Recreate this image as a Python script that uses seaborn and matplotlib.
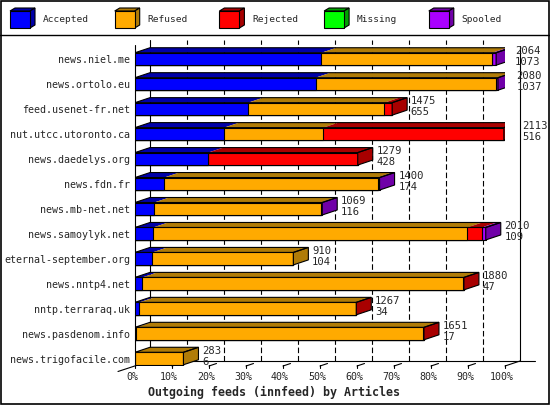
import matplotlib
matplotlib.use("Agg")
import matplotlib.pyplot as plt
from matplotlib.patches import Polygon, Rectangle
from matplotlib.lines import Line2D
import seaborn as sns
import numpy as np

hosts = ["news.niel.me", "news.ortolo.eu", "feed.usenet-fr.net", "nut.utcc.utoronto.ca",
         "news.daedelys.org", "news.fdn.fr", "news.mb-net.net", "news.samoylyk.net",
         "eternal-september.org", "news.nntp4.net", "nntp.terraraq.uk", "news.pasdenom.info",
         "news.trigofacile.com"]
accepted = [50.4, 48.8, 30.6, 24.1, 19.8, 7.9, 5.2, 4.9, 4.7, 2.0, 1.2, 0.4, 0.0]
refused = [46.2, 48.9, 36.8, 26.8, 0.0, 57.7, 45.0, 84.9, 38.1, 86.7, 58.4, 77.5, 13.1]
rejected = [0.0, 0.0, 2.1, 48.8, 40.4, 0.0, 0.0, 3.9, 0.0, 0.2, 0.2, 0.2, 0.0]
missing = [0.0] * 13
spooled = [1.0, 0.4, 0.0, 0.0, 0.0, 0.5, 0.4, 1.1, 0.0, 0.0, 0.0, 0.0, 0.0]
count_top = [2064, 2080, 1475, 2113, 1279, 1400, 1069, 2010, 910, 1880, 1267, 1651, 283]
count_bottom = [1073, 1037, 655, 516, 428, 174, 116, 109, 104, 47, 34, 17, 6]

series_names = ["Accepted", "Refused", "Rejected", "Missing", "Spooled"]
front_colors = ["#0000ff", "#ffaa00", "#ff0000", "#00ff00", "#aa00ff"]
dark_colors = ["#0000a8", "#b07c08", "#a80000", "#00a000", "#7000a8"]

W, H = 550, 405
sns.set_style("white")
plt.rcParams["font.family"] = ["DejaVu Sans Mono", "DejaVu Sans"]
fig = plt.figure(figsize=(W / 100, H / 100), dpi=100)

# main axes: front plane 0..100% spans px 135..505, rows 25 px apart
ax = fig.add_axes([135 / W, (H - 366) / H, 370 / W, 326 / H])
ax.patch.set_alpha(0)

dx = 15 / 3.7   # depth in %
dy = 5 / 25.0   # depth in rows
bar_h = 0.5
y_top, y_bot = -0.76, 12.3
floor = y_bot - dy

series = np.array([accepted, refused, rejected, missing, spooled])
cum = np.cumsum(series, axis=0)

# stacked front faces, largest cumulative first
for i in range(len(series_names) - 1, -1, -1):
    sns.barplot(x=cum[i], y=hosts, order=hosts, orient="h", color=front_colors[i],
                saturation=1, width=bar_h, edgecolor="black", linewidth=0.8, ax=ax, zorder=3)

# back walls and dashed grid
ax.plot([dx, dx], [floor, y_top], color="black", lw=0.8, zorder=1, clip_on=False)
ax.plot([100 + dx, 100 + dx], [floor, -0.52], color="black", lw=0.8, zorder=1, clip_on=False)
for k in range(1, 10):
    ax.plot([10 * k + dx] * 2, [floor, y_top], color="black", lw=0.8, ls=(0, (5, 2.5)),
            zorder=1, clip_on=False)
ax.plot([dx, 108.1], [floor, floor], color="black", lw=0.8, zorder=1, clip_on=False)
ax.plot([0, 0], [-0.56, y_bot], color="black", lw=0.8, zorder=1, clip_on=False)
ax.plot([-4.6, dx], [12.52, floor], color="black", lw=0.8, zorder=1, clip_on=False)
ax.plot([100, 100 + dx], [y_bot, floor], color="black", lw=0.8, zorder=1, clip_on=False)
for k in range(0, 11):
    x = 10 * k
    ax.plot([x, x], [y_bot - 0.05, y_bot + 0.1], color="black", lw=0.8, zorder=1, clip_on=False)
    if 0 < k < 10:
        ax.plot([x, x + dx * 0.5], [y_bot, y_bot - dy * 0.5], color="black", lw=0.8,
                zorder=1, clip_on=False)
    ax.text(x - 0.8, y_bot + 0.44, f"{x}%", ha="center", va="center", fontsize=7.2)

# 3d faces: top faces per segment, side face on the last segment
for r in range(len(hosts)):
    top = r - bar_h / 2
    bot = r + bar_h / 2
    last = None
    for i in range(len(series_names)):
        v = series[i, r]
        if v <= 0:
            continue
        x0 = cum[i, r] - v
        x1 = cum[i, r]
        ax.add_patch(Polygon([(x0, top), (x1, top), (x1 + dx, top - dy), (x0 + dx, top - dy)],
                             closed=True, facecolor=dark_colors[i], edgecolor="none", zorder=4))
        last = i
    total = cum[-1, r]
    ax.add_patch(Polygon([(total, top), (total + dx, top - dy), (total + dx, bot - dy), (total, bot)],
                         closed=True, facecolor=dark_colors[last], edgecolor="black", lw=0.8, zorder=4))
    ax.add_patch(Polygon([(0, top), (total, top), (total + dx, top - dy), (dx, top - dy)],
                         closed=True, facecolor="none", edgecolor="black", lw=0.8, zorder=5))
    ax.text(total + dx + 1.0, r - 0.32, str(count_top[r]), ha="left", va="center", fontsize=7.6)
    ax.text(total + dx + 1.0, r + 0.12, str(count_bottom[r]), ha="left", va="center", fontsize=7.6)

ax.set_xlim(0, 100)
ax.set_ylim(y_bot, y_top)
ax.set_xticks([])
ax.set_yticks(range(len(hosts)))
ax.set_yticklabels(hosts, fontsize=7.2)
ax.tick_params(axis="y", length=0, pad=3.6)
ax.set_xlabel("")
ax.set_ylabel("")
for s in ax.spines.values():
    s.set_visible(False)

fig.text(274 / W, 1 - 392 / H, "Outgoing feeds (innfeed) by Articles", ha="center", va="center",
         fontsize=8.4, fontweight="bold")

# legend strip
lax = fig.add_axes([0, 1 - 35 / H, 1, 35 / H])
lax.set_xlim(0, W)
lax.set_ylim(35, 0)
lax.axis("off")
for i, name in enumerate(series_names):
    x0 = 10 + 104.7 * i
    lax.add_patch(Polygon([(x0, 11), (x0 + 20, 11), (x0 + 25, 8), (x0 + 5, 8)], closed=True,
                          facecolor=dark_colors[i], edgecolor="black", lw=0.8))
    lax.add_patch(Polygon([(x0 + 20, 11), (x0 + 25, 8), (x0 + 25, 25), (x0 + 20, 28)], closed=True,
                          facecolor=dark_colors[i], edgecolor="black", lw=0.8))
    lax.add_patch(Rectangle((x0, 11), 20, 17, facecolor=front_colors[i], edgecolor="black", lw=0.8))
    lax.text(x0 + 33, 20, name, ha="left", va="center", fontsize=6.8)

fig.add_artist(Line2D([0, 1], [1 - 35 / H] * 2, color="black", lw=1.0, transform=fig.transFigure))
fig.add_artist(Rectangle((0.001, 0.0015), 0.997, 0.996, transform=fig.transFigure, fill=False,
                         edgecolor="black", lw=1.2))

fig.savefig("out.png", dpi=100)
